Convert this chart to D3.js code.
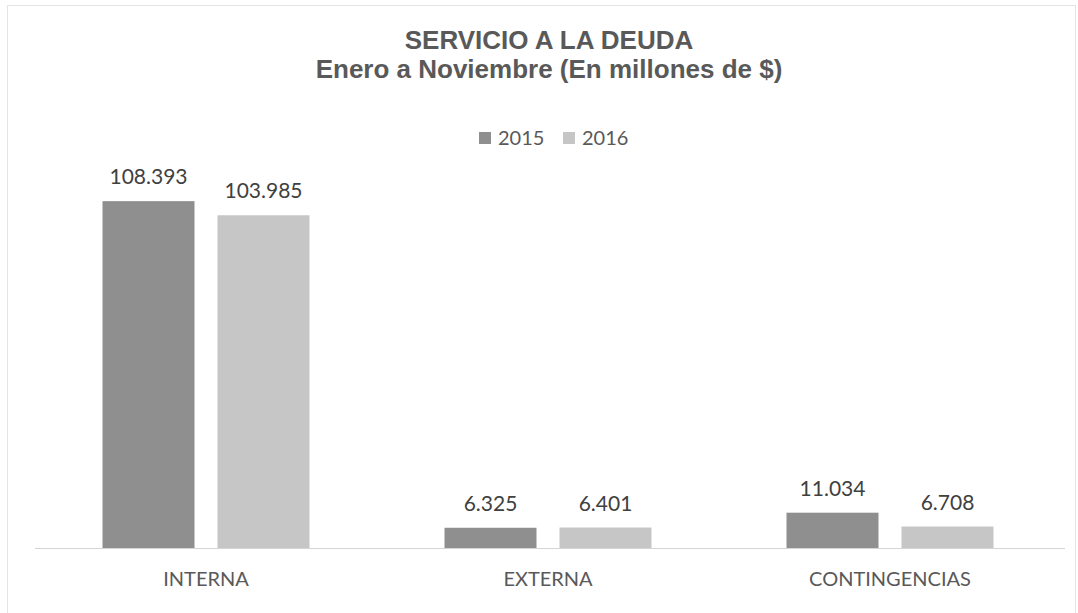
<!DOCTYPE html>
<html>
<head>
<meta charset="utf-8">
<script src="https://cdn.jsdelivr.net/npm/d3@7"></script>
<style>
	body { margin:0; background:#fff; }
	svg text { font-family: Lato, "Open Sans", sans-serif; }
</style>
</head>
<body>
<svg id="chart" width="1078" height="613"></svg>
<script>
// data
var categories = ["INTERNA", "EXTERNA", "CONTINGENCIAS"];
var series = ["2015", "2016"];
var values2015 = [108.393, 6.325, 11.034];
var values2016 = [103.985, 6.401, 6.708];
var colors = ["#8f8f8f", "#c6c6c6"];

var svg = d3.select("#chart");
var W = 1078, H = 613;
var plotLeft = 35, plotRight = 1061, plotBase = 548, plotTop = 164;

// faint border of the chart area
svg.append("rect")
	.attr("x", 7.5).attr("y", 5.5)
	.attr("width", W - 10).attr("height", H - 4)
	.attr("fill", "none")
	.attr("stroke", "#e4e4e4");

var x0 = d3.scaleBand().domain(categories).range([plotLeft, plotRight]);
var x1 = d3.scaleBand().domain(series)
	.range([0, x0.bandwidth()])
	.paddingInner(0.2)
	.paddingOuter(0.587);
var y = d3.scaleLinear().domain([0, 120]).range([plotBase, plotTop]);

// title
svg.append("text")
	.attr("x", 549).attr("y", 49)
	.attr("text-anchor", "middle")
	.attr("fill", "#595959")
	.style("font-family", "'Liberation Sans', Arial, sans-serif")
	.style("font-weight", "bold")
	.style("font-size", "26px")
	.text("SERVICIO A LA DEUDA");
svg.append("text")
	.attr("x", 549).attr("y", 78)
	.attr("text-anchor", "middle")
	.attr("fill", "#595959")
	.style("font-family", "'Liberation Sans', Arial, sans-serif")
	.style("font-weight", "bold")
	.style("font-size", "26px")
	.text("Enero a Noviembre (En millones de $)");

// legend
var legX = [479, 563];
series.forEach(function(s, i){
	svg.append("rect")
		.attr("x", legX[i]).attr("y", 132)
		.attr("width", 12).attr("height", 12)
		.attr("fill", colors[i]);
	svg.append("text")
		.attr("x", legX[i] + 19).attr("y", 145)
		.attr("fill", "#595959")
		.style("font-size", "20px")
		.text(s);
});

// bars
var rows = categories.map(function(c, i){
	return {cat: c, vals: [values2015[i], values2016[i]]};
});

var groups = svg.selectAll(".grp")
	.data(rows)
	.enter().append("g")
	.attr("class", "grp")
	.attr("transform", function(d){ return "translate(" + x0(d.cat) + ",0)"; });

groups.selectAll("rect")
	.data(function(d){ return d.vals.map(function(v, i){ return {s: series[i], v: v, i: i}; }); })
	.enter().append("rect")
	.attr("x", function(d){ return x1(d.s); })
	.attr("y", function(d){ return y(d.v); })
	.attr("width", x1.bandwidth())
	.attr("height", function(d){ return plotBase - y(d.v); })
	.attr("fill", function(d){ return colors[d.i]; });

groups.selectAll(".lbl")
	.data(function(d){ return d.vals.map(function(v, i){ return {s: series[i], v: v}; }); })
	.enter().append("text")
	.attr("class", "lbl")
	.attr("x", function(d){ return x1(d.s) + x1.bandwidth() / 2; })
	.attr("y", function(d){ return y(d.v) - 17; })
	.attr("text-anchor", "middle")
	.attr("fill", "#404040")
	.style("font-size", "21px")
	.text(function(d){ return d3.format(".3f")(d.v); });

// axis line
svg.append("line")
	.attr("x1", plotLeft).attr("x2", plotRight + 4)
	.attr("y1", plotBase + 0.5).attr("y2", plotBase + 0.5)
	.attr("stroke", "#d4d4d4");

// category labels
svg.selectAll(".cat")
	.data(categories)
	.enter().append("text")
	.attr("class", "cat")
	.attr("x", function(d){ return x0(d) + x0.bandwidth() / 2; })
	.attr("y", 586)
	.attr("text-anchor", "middle")
	.attr("fill", "#595959")
	.style("font-size", "20px")
	.text(function(d){ return d; });
</script>
</body>
</html>
